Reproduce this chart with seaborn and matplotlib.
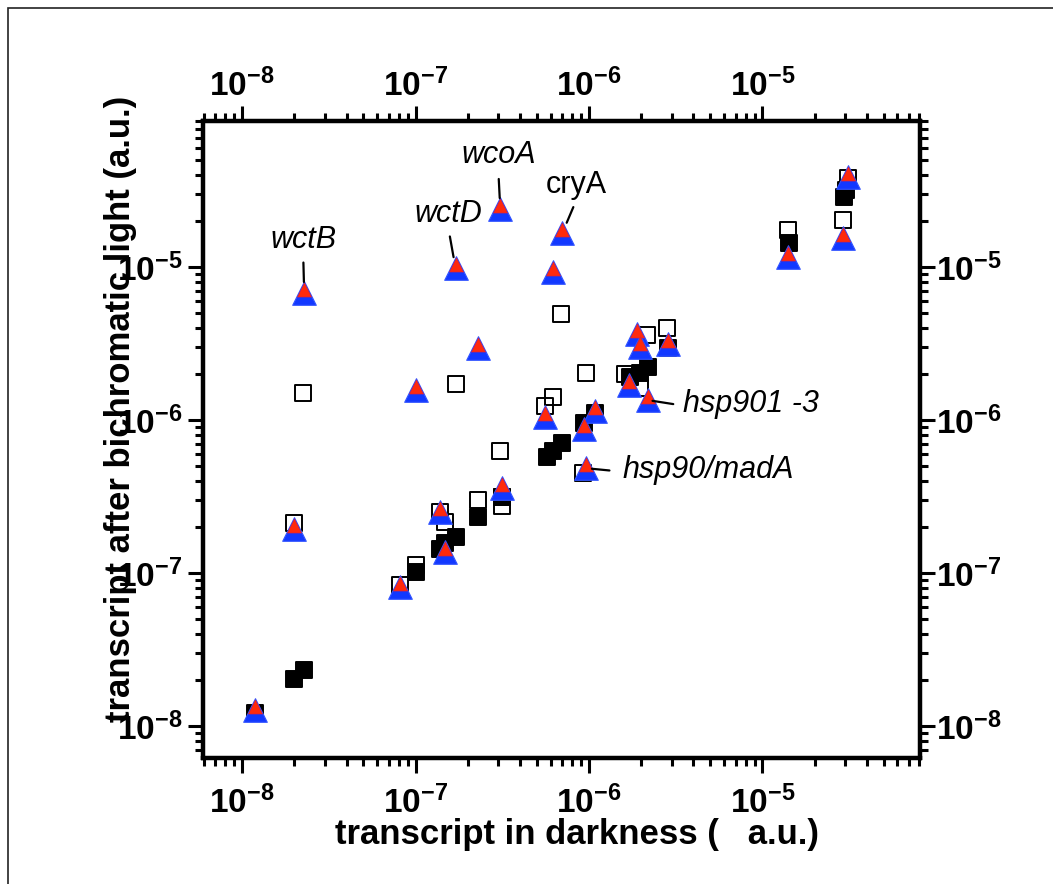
import numpy as np
import matplotlib
matplotlib.use("Agg")
import matplotlib.pyplot as plt
import seaborn as sns
from matplotlib import font_manager
from matplotlib.markers import MarkerStyle
from matplotlib.transforms import Affine2D
from matplotlib.ticker import LogLocator, FuncFormatter, NullFormatter
from matplotlib.patches import Rectangle

# ---------------- data ----------------
# bichromatic light (blue/red triangles)
tri_x = [1.19e-8, 2.0e-8, 2.28e-8, 8.16e-8, 1.0e-7, 1.39e-7, 1.48e-7, 1.70e-7, 2.30e-7,
         3.08e-7, 3.16e-7, 5.60e-7, 6.23e-7, 7.02e-7, 9.4e-7, 9.66e-7, 1.09e-6, 1.69e-6,
         1.90e-6, 1.98e-6, 2.20e-6, 2.87e-6, 1.40e-5, 2.90e-5, 3.10e-5]
tri_y = [1.27e-8, 1.94e-7, 6.76e-6, 8.10e-8, 1.57e-6, 2.51e-7, 1.37e-7, 9.85e-6, 2.96e-6,
         2.39e-5, 3.60e-7, 1.05e-6, 9.27e-6, 1.67e-5, 8.73e-7, 4.85e-7, 1.14e-6, 1.69e-6,
         3.65e-6, 3.00e-6, 1.35e-6, 3.13e-6, 1.16e-5, 1.55e-5, 3.87e-5]

# open squares
open_x = [2.0e-8, 2.25e-8, 8.16e-8, 1.0e-7, 1.39e-7, 1.48e-7, 1.70e-7, 2.30e-7, 3.08e-7,
          3.16e-7, 3.16e-7, 5.60e-7, 6.23e-7, 6.9e-7, 9.66e-7, 9.29e-7, 1.62e-6, 1.98e-6,
          2.17e-6, 2.83e-6, 1.40e-5, 2.90e-5, 3.10e-5]
open_y = [2.12e-7, 1.50e-6, 8.36e-8, 1.13e-7, 2.51e-7, 2.15e-7, 1.72e-6, 3.00e-7, 6.27e-7,
          3.14e-7, 2.74e-7, 1.24e-6, 1.41e-6, 4.93e-6, 2.03e-6, 4.50e-7, 2.0e-6, 1.62e-6,
          3.60e-6, 3.99e-6, 1.75e-5, 2.03e-5, 3.82e-5]

# filled squares
filled_x = [1.19e-8, 2.0e-8, 2.28e-8, 1.0e-7, 1.39e-7, 1.48e-7, 1.70e-7, 2.30e-7, 3.16e-7,
            5.75e-7, 6.23e-7, 7.02e-7, 9.4e-7, 1.09e-6, 1.73e-6, 1.98e-6, 2.20e-6, 2.87e-6,
            1.42e-5, 2.95e-5, 3.05e-5]
filled_y = [1.22e-8, 2.03e-8, 2.32e-8, 1.02e-7, 1.44e-7, 1.57e-7, 1.72e-7, 2.32e-7, 3.14e-7,
            5.73e-7, 6.27e-7, 7.08e-7, 9.55e-7, 1.11e-6, 1.91e-6, 2.03e-6, 2.22e-6, 2.96e-6,
            1.44e-5, 2.87e-5, 3.18e-5]

# gene labels attached to triangle points (index into tri arrays)
ann_labels = ["wctB", "wctD", "wcoA", "cryA", "hsp90/madA", "hsp901 -3"]
ann_index = [2, 7, 9, 13, 15, 20]

x_label = "transcript in darkness (   a.u.)"
y_label = "transcript after bichromatic light (a.u.)"

# ---------------- styling ----------------
sns.set_theme(style="ticks")
names = {f.name for f in font_manager.fontManager.ttflist}
narrow = "Liberation Sans Narrow" in names
lab_family = "Liberation Sans Narrow" if narrow else "Liberation Sans"
lab_size = 31 if narrow else 25
tick_size = 30 if narrow else 24

plt.rcParams["font.family"] = ["Liberation Sans", "DejaVu Sans"]
plt.rcParams["mathtext.fontset"] = "custom"
for k in ("rm", "bf", "it", "sf"):
    plt.rcParams["mathtext." + k] = lab_family + ":bold"
for k in ("text.color", "axes.labelcolor", "xtick.color", "ytick.color",
          "axes.edgecolor"):
    plt.rcParams[k] = "black"

fig = plt.figure(figsize=(10.53, 8.84), dpi=100)
fig.patch.set_facecolor("white")
ax = fig.add_axes([0.1928, 0.1425, 0.6809, 0.7206])
ax.set_facecolor("white")

blue = "#1238ff"
red = "#ff2a0c"

sns.scatterplot(x=open_x, y=open_y, ax=ax, marker="s", s=11.5 ** 2,
                facecolor="none", edgecolor="black", linewidth=1.4, zorder=3)
sns.scatterplot(x=filled_x, y=filled_y, ax=ax, marker="s", s=11.5 ** 2,
                color="black", edgecolor="black", linewidth=1.4, zorder=4)
sns.scatterplot(x=tri_x, y=tri_y, ax=ax, marker="^", s=17 ** 2,
                color=blue, edgecolor="#3355ff", linewidth=0.8, zorder=5)
red_marker = MarkerStyle("^", transform=Affine2D().scale(0.6).translate(0, 0.15))
sns.scatterplot(x=tri_x, y=tri_y, ax=ax, marker=red_marker, s=17 ** 2,
                color=red, edgecolor="#d0204a", linewidth=0.4, zorder=6)

xlim = (5.95e-9, 8.1e-5)
ylim = (6.2e-9, 9.0e-5)
ax.set_xscale("log")
ax.set_yscale("log")
ax.set_xlim(*xlim)
ax.set_ylim(*ylim)

# twin axes carry the top and right tick labels (own padding)
axt = ax.twiny()
axt.set_xscale("log")
axt.set_xlim(*xlim)
axr = ax.twinx()
axr.set_yscale("log")
axr.set_ylim(*ylim)

fmt = FuncFormatter(lambda v, p: r"$\mathbf{10^{%d}}$" % int(round(np.log10(v))))
for axis in (ax.xaxis, ax.yaxis, axt.xaxis, axr.yaxis):
    axis.set_major_locator(LogLocator(base=10, numticks=20))
    axis.set_minor_locator(LogLocator(base=10, subs=np.arange(2, 10), numticks=100))
    axis.set_major_formatter(fmt)
    axis.set_minor_formatter(NullFormatter())

for a in (ax, axt, axr):
    for sp in a.spines.values():
        sp.set_visible(True)
        sp.set_linewidth(3.0)
        sp.set_color("black")
    a.grid(False)

ax.tick_params(which="both", direction="out", top=False, right=False,
               labeltop=False, labelright=False, bottom=True, left=True,
               color="black", width=2.2)
ax.tick_params(which="major", length=11, labelsize=tick_size)
ax.tick_params(which="minor", length=6)
ax.xaxis.set_tick_params(which="major", pad=8.5)
ax.yaxis.set_tick_params(which="major", pad=4)

axt.tick_params(axis="x", which="both", direction="out", top=True, bottom=False,
                labeltop=True, labelbottom=False, color="black", width=2.2)
axt.tick_params(axis="x", which="major", length=11, labelsize=tick_size, pad=2)
axt.tick_params(axis="x", which="minor", length=6)

axr.tick_params(axis="y", which="both", direction="out", right=True, left=False,
                labelright=True, labelleft=False, color="black", width=2.2)
axr.tick_params(axis="y", which="major", length=11, labelsize=tick_size, pad=0.5)
axr.tick_params(axis="y", which="minor", length=6)

ax.set_xlabel(x_label, fontfamily=lab_family, fontweight="bold", fontsize=lab_size)
ax.set_ylabel(y_label, fontfamily=lab_family, fontweight="bold", fontsize=lab_size)
ax.xaxis.set_label_coords(0.522, -0.094)
ax.yaxis.set_label_coords(-0.092, 0.548)
ax.yaxis.label.set_zorder(10)

# annotations (offsets in pixels from the point, and leader-line settings)
ann_dx = [-1, -7, -2, 14, 36, 35]
ann_dy = [45, 46, 46, 40, -10, -12]
ann_ha = ["center", "center", "center", "center", "left", "left"]
ann_style = ["italic", "italic", "italic", "normal", "italic", "italic"]
ann_rel = [(0.5, 0), (0.5, 0), (0.5, 0), (0.5, 0), (0, 0.45), (0, 0.45)]
ann_shrinkA = [3, 3, 4, 3, 7, 5]
ann_shrinkB = [8, 8, 8, 8, 4, 3]
for lab, i, dx, dy, ha, st, rel, sa, sb in zip(ann_labels, ann_index, ann_dx, ann_dy,
                                               ann_ha, ann_style, ann_rel,
                                               ann_shrinkA, ann_shrinkB):
    ax.annotate(lab, xy=(tri_x[i], tri_y[i]), xytext=(dx, dy), textcoords="offset pixels",
                ha=ha, va="baseline", fontsize=22, fontstyle=st,
                fontfamily=["Liberation Sans", "DejaVu Sans"], color="black", zorder=8,
                arrowprops=dict(arrowstyle="-", color="black", lw=1.6,
                                shrinkA=sa, shrinkB=sb, relpos=rel))

# thin frame around the figure
fig.add_artist(Rectangle((8 / 1053, -0.1), 1.2, 1.1 - 8 / 884,
                         transform=fig.transFigure, fill=False,
                         edgecolor="#222222", linewidth=1.2))

fig.savefig("out.png", dpi=100, facecolor="white")
